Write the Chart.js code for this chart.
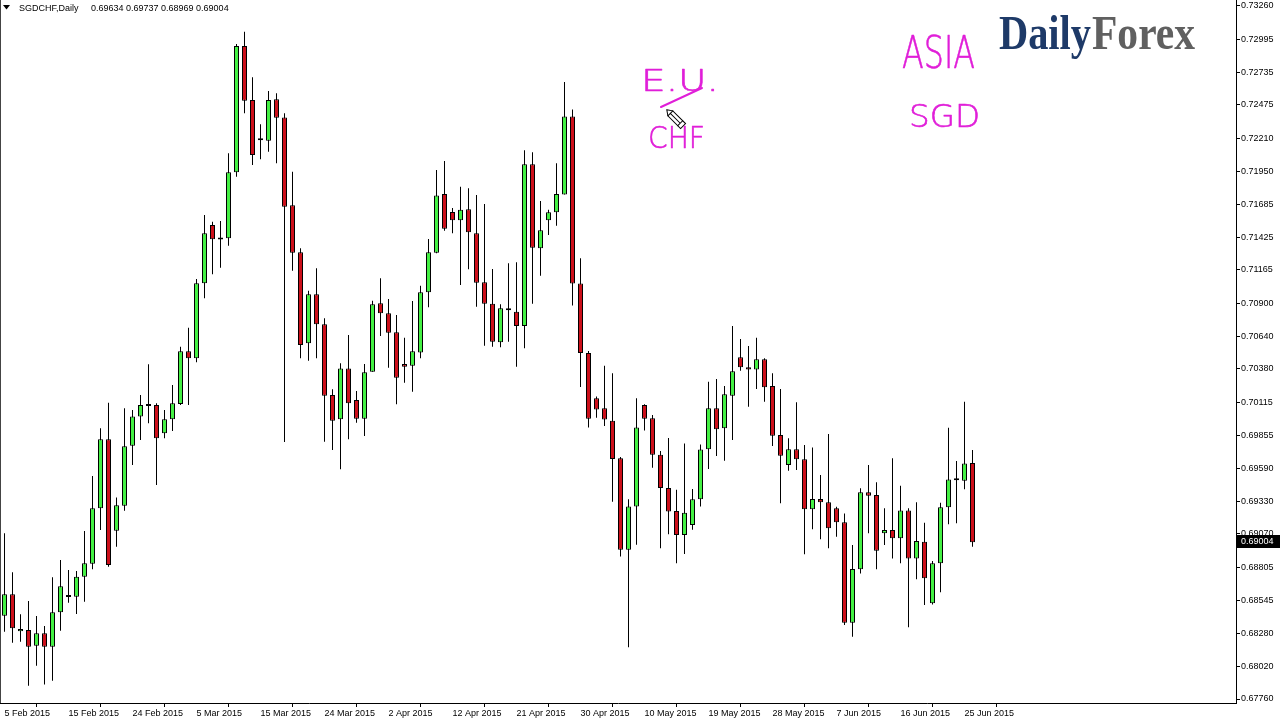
<!DOCTYPE html>
<html><head><meta charset="utf-8">
<script src="https://cdn.jsdelivr.net/npm/chart.js@4.4.1/dist/chart.umd.min.js"></script>
<style>html,body{margin:0;padding:0;background:#fff;overflow:hidden}canvas{display:block}</style>
</head><body>
<canvas id="c" width="1280" height="720"></canvas>
<script>
const symbolName = 'SGDCHF,Daily';
const dates = ['5 Feb 2015','6 Feb 2015','8 Feb 2015','9 Feb 2015','10 Feb 2015','11 Feb 2015','12 Feb 2015','13 Feb 2015','15 Feb 2015','16 Feb 2015','17 Feb 2015','18 Feb 2015','19 Feb 2015','20 Feb 2015','22 Feb 2015','23 Feb 2015','24 Feb 2015','25 Feb 2015','26 Feb 2015','27 Feb 2015',
'1 Mar 2015','2 Mar 2015','3 Mar 2015','4 Mar 2015','5 Mar 2015','6 Mar 2015','8 Mar 2015','9 Mar 2015','10 Mar 2015','11 Mar 2015','12 Mar 2015','13 Mar 2015','15 Mar 2015','16 Mar 2015','17 Mar 2015','18 Mar 2015','19 Mar 2015','20 Mar 2015','22 Mar 2015','23 Mar 2015','24 Mar 2015','25 Mar 2015','26 Mar 2015','27 Mar 2015','29 Mar 2015','30 Mar 2015','31 Mar 2015',
'1 Apr 2015','2 Apr 2015','3 Apr 2015','5 Apr 2015','6 Apr 2015','7 Apr 2015','8 Apr 2015','9 Apr 2015','10 Apr 2015','12 Apr 2015','13 Apr 2015','14 Apr 2015','15 Apr 2015','16 Apr 2015','17 Apr 2015','19 Apr 2015','20 Apr 2015','21 Apr 2015','22 Apr 2015','23 Apr 2015','24 Apr 2015','26 Apr 2015','27 Apr 2015','28 Apr 2015','29 Apr 2015','30 Apr 2015',
'1 May 2015','3 May 2015','4 May 2015','5 May 2015','6 May 2015','7 May 2015','8 May 2015','10 May 2015','11 May 2015','12 May 2015','13 May 2015','14 May 2015','15 May 2015','17 May 2015','18 May 2015','19 May 2015','20 May 2015','21 May 2015','22 May 2015','24 May 2015','25 May 2015','26 May 2015','27 May 2015','28 May 2015','29 May 2015','31 May 2015',
'1 Jun 2015','2 Jun 2015','3 Jun 2015','4 Jun 2015','5 Jun 2015','7 Jun 2015','8 Jun 2015','9 Jun 2015','10 Jun 2015','11 Jun 2015','12 Jun 2015','14 Jun 2015','15 Jun 2015','16 Jun 2015','17 Jun 2015','18 Jun 2015','19 Jun 2015','21 Jun 2015','22 Jun 2015','23 Jun 2015','24 Jun 2015','25 Jun 2015','26 Jun 2015'];

const opens = [0.68421,0.68591,0.68297,0.68307,0.68183,0.68281,0.68175,0.68448,0.68569,0.68571,
0.68730,0.68834,0.69273,0.69821,0.69095,0.69294,0.69770,0.70003,0.70090,0.70093,
0.69869,0.69980,0.70101,0.70519,0.70464,0.71059,0.71522,0.71410,0.71416,0.71940,
0.72943,0.72514,0.72194,0.72191,0.72520,0.72375,0.71678,0.71305,0.70583,0.70972,
0.70734,0.70172,0.69980,0.70384,0.70133,0.69984,0.70357,0.70900,0.70821,0.70670,
0.70419,0.70405,0.70510,0.70988,0.71302,0.71768,0.71625,0.71559,0.71646,0.71456,
0.71067,0.70897,0.70591,0.70849,0.70834,0.70720,0.72004,0.71337,0.71559,0.71623,
0.71764,0.72383,0.71058,0.70507,0.70146,0.70067,0.69969,0.69670,0.68944,0.69288,
0.70093,0.69988,0.69699,0.69434,0.69253,0.69061,0.69141,0.69346,0.69742,0.70067,
0.69908,0.70167,0.70472,0.70392,0.70376,0.70456,0.70244,0.69855,0.69617,0.69742,
0.69662,0.69265,0.69347,0.69321,0.69273,0.69162,0.68365,0.68789,0.69400,0.69379,
0.69075,0.69101,0.69035,0.69257,0.68876,0.69008,0.68519,0.68837,0.69281,0.69496,
0.69492,0.69634];
const highs = [0.69075,0.68765,0.68432,0.68538,0.68418,0.68339,0.68726,0.68863,0.68784,0.68776,
0.69093,0.69530,0.69908,0.70111,0.69360,0.70067,0.70053,0.70172,0.70416,0.70107,
0.70053,0.70252,0.70556,0.70707,0.71093,0.71601,0.71548,0.71554,0.72091,0.72958,
0.73056,0.72694,0.72321,0.72585,0.72567,0.72408,0.71945,0.71337,0.71000,0.71178,
0.70781,0.70218,0.70424,0.70649,0.70204,0.70419,0.70921,0.71099,0.70934,0.70807,
0.70627,0.70919,0.71040,0.71411,0.71958,0.72030,0.71657,0.71826,0.71813,0.71760,
0.71688,0.71173,0.70892,0.71218,0.71226,0.72115,0.72099,0.71712,0.71643,0.72012,
0.72657,0.72439,0.71258,0.70522,0.70161,0.70405,0.70346,0.69680,0.69346,0.70146,
0.70100,0.70014,0.69729,0.69831,0.69420,0.69787,0.69426,0.69779,0.70278,0.70300,
0.70244,0.70720,0.70617,0.70561,0.70627,0.70464,0.70345,0.70220,0.69829,0.70115,
0.69776,0.69757,0.69537,0.69863,0.69286,0.69233,0.68982,0.69432,0.69617,0.69480,
0.69273,0.69670,0.69453,0.69273,0.69321,0.69159,0.68855,0.69318,0.69913,0.69649,
0.70119,0.69737];
const lows = [0.68294,0.68207,0.68214,0.67865,0.68024,0.67876,0.67905,0.68302,0.68524,0.68434,
0.68532,0.68789,0.69101,0.68810,0.68968,0.69254,0.69617,0.69815,0.69948,0.69458,
0.69829,0.69887,0.70093,0.70093,0.70432,0.70940,0.71131,0.71183,0.71358,0.71905,
0.72408,0.71998,0.72043,0.72104,0.72012,0.69799,0.71159,0.70464,0.70445,0.70464,
0.69802,0.69736,0.69583,0.69821,0.69953,0.69847,0.70357,0.70641,0.70389,0.70099,
0.70270,0.70199,0.70464,0.70869,0.71297,0.71477,0.71456,0.71046,0.71170,0.70873,
0.70564,0.70556,0.70551,0.70596,0.70397,0.70543,0.70897,0.71119,0.71442,0.71516,
0.71764,0.70884,0.70237,0.69914,0.69993,0.69926,0.69326,0.68891,0.68171,0.68985,
0.69890,0.69596,0.68956,0.69067,0.68838,0.68911,0.69103,0.69288,0.69585,0.69688,
0.69651,0.69815,0.70365,0.70080,0.70220,0.70119,0.69768,0.69313,0.69572,0.69577,
0.68908,0.69107,0.69027,0.68956,0.69048,0.68347,0.68254,0.68757,0.69075,0.68789,
0.68982,0.68876,0.68837,0.68329,0.68710,0.68506,0.68510,0.68607,0.69146,0.69154,
0.69424,0.68969];
const closes = [0.68591,0.68321,0.68315,0.68175,0.68281,0.68175,0.68448,0.68654,0.68573,0.68730,
0.68837,0.69273,0.69821,0.68823,0.69297,0.69765,0.70003,0.70093,0.70086,0.69829,
0.69980,0.70107,0.70519,0.70464,0.71059,0.71456,0.71408,0.71406,0.71940,0.72943,
0.72508,0.72077,0.72198,0.72514,0.72373,0.71667,0.71302,0.70569,0.70972,0.70734,
0.70167,0.69969,0.70384,0.70107,0.69984,0.70353,0.70892,0.70821,0.70667,0.70310,
0.70397,0.70519,0.70988,0.71305,0.71757,0.71492,0.71559,0.71643,0.71464,0.71064,
0.70897,0.70596,0.70861,0.70845,0.70720,0.72004,0.71342,0.71480,0.71623,0.71768,
0.72383,0.71058,0.70507,0.69984,0.70058,0.69979,0.69664,0.68944,0.69288,0.69914,
0.69984,0.69699,0.69434,0.69249,0.69061,0.69238,0.69346,0.69740,0.70067,0.69900,
0.70178,0.70361,0.70392,0.70376,0.70456,0.70234,0.69850,0.69691,0.69742,0.69662,
0.69265,0.69347,0.69321,0.69115,0.69162,0.68365,0.68791,0.69400,0.69373,0.68937,
0.69101,0.69035,0.69257,0.68876,0.69014,0.68718,0.68837,0.69281,0.69503,0.69500,
0.69630,0.69004];

const priceTicks = [0.73260,0.72995,0.72735,0.72475,0.72210,0.71950,0.71685,0.71425,0.71165,0.70900,0.70640,
0.70380,0.70115,0.69855,0.69590,0.69330,0.69070,0.68805,0.68545,0.68280,0.68020,0.67760];
const dateTickIndex = [0,8,16,24,32,40,48,56,64,72,80,88,96,104,112,120];

const BULL = '#44f044', BEAR = '#cc0f1a', PEN = '#e01ed8';
const Y_MIN = 0.677283, Y_MAX = 0.733076;
const X_MIN = -0.5625, X_MAX = 153.9375;

const bodyData = opens.map((o, i) => ({x: i, y: [o, closes[i]]}));
const wickData = lows.map((l, i) => ({x: i, y: [l, highs[i]]}));
const bodyColors = opens.map((o, i) => closes[i] >= o ? BULL : BEAR);

function fitText(ctx, text, x, yBase, w, font, color, strokeW) {
  ctx.save();
  ctx.font = font; ctx.fillStyle = color; ctx.strokeStyle = color; ctx.textAlign = 'left'; ctx.textBaseline = 'alphabetic';
  const m = ctx.measureText(text).width;
  ctx.translate(x, yBase); ctx.scale(w / m, 1);
  ctx.fillText(text, 0, 0);
  if (strokeW) { ctx.lineWidth = strokeW; ctx.lineJoin = 'round'; ctx.strokeText(text, 0, 0); }
  ctx.restore();
}

const overlay = {
  id: 'overlay',
  afterDraw(chart) {
    const ctx = chart.ctx;
    const ys = chart.scales.y;
    const n = closes.length - 1;
    ctx.save();
    ctx.fillStyle = '#444';
    ctx.fillRect(0, 0, 1, 703);
    ctx.fillStyle = '#000';
    ctx.beginPath(); ctx.moveTo(3, 5); ctx.lineTo(10, 5); ctx.lineTo(6.5, 9.5); ctx.closePath(); ctx.fill();
    ctx.font = '9px "Liberation Sans"'; ctx.textBaseline = 'alphabetic'; ctx.textAlign = 'left';
    ctx.fillText(symbolName, 19, 10.5);
    ctx.fillText([opens[n], highs[n], lows[n], closes[n]].map(v => v.toFixed(5)).join(' '), 91, 10.5);
    const py = Math.round(ys.getPixelForValue(closes[n]));
    ctx.fillStyle = '#000';
    ctx.fillRect(1237, py - 7, 43, 13);
    ctx.fillStyle = '#fff';
    ctx.textBaseline = 'middle';
    ctx.fillText(closes[n].toFixed(5), 1241, py);
    ctx.restore();
    fitText(ctx, 'Daily', 999, 49, 92, 'bold 48px "Liberation Serif"', '#1e3a68');
    fitText(ctx, 'Forex', 1092, 49, 103, 'bold 48px "Liberation Serif"', '#606060');
    fitText(ctx, 'ASIA', 902, 68, 73, '200 44px "DejaVu Sans"', PEN, 0.6);
    fitText(ctx, 'SGD', 909, 127, 71, '200 32px "DejaVu Sans"', PEN, 0.6);
    fitText(ctx, 'E.U.', 641, 91, 78, '200 30px "DejaVu Sans"', PEN, 0.6);
    fitText(ctx, 'CHF', 648, 148, 57, '200 31px "DejaVu Sans"', PEN, 0.6);
    ctx.save();
    ctx.strokeStyle = PEN; ctx.lineWidth = 2; ctx.lineCap = 'round';
    ctx.beginPath(); ctx.moveTo(661, 107); ctx.lineTo(702, 88); ctx.stroke();
    ctx.translate(676, 119); ctx.rotate(Math.PI / 4);
    ctx.fillStyle = '#fff'; ctx.strokeStyle = '#000'; ctx.lineWidth = 1;
    ctx.beginPath(); ctx.moveTo(-13, 0); ctx.lineTo(-8, -3.5); ctx.lineTo(10, -3.5); ctx.lineTo(10, 3.5); ctx.lineTo(-8, 3.5); ctx.closePath();
    ctx.fill(); ctx.stroke();
    ctx.beginPath(); ctx.moveTo(-8, -3.5); ctx.lineTo(-8, 3.5); ctx.moveTo(6, -3.5); ctx.lineTo(6, 3.5); ctx.moveTo(-8, 0); ctx.lineTo(6, 0); ctx.stroke();
    ctx.restore();
  }
};

new Chart(document.getElementById('c').getContext('2d'), {
  type: 'bar',
  data: {
    datasets: [
      {label: 'body', data: bodyData, backgroundColor: bodyColors, borderColor: '#000', borderWidth: 1,
       borderSkipped: false, barThickness: 5, minBarLength: 2, grouped: false, order: 0, inflateAmount: 0},
      {label: 'wick', data: wickData, backgroundColor: '#000', borderWidth: 0,
       barThickness: 1, grouped: false, order: 1, inflateAmount: 0}
    ]
  },
  options: {
    responsive: false, animation: false, devicePixelRatio: 1,
    layout: {padding: 0},
    plugins: {legend: {display: false}, tooltip: {enabled: false}},
    scales: {
      x: {
        type: 'linear', position: 'bottom', min: X_MIN, max: X_MAX, offset: false,
        afterBuildTicks: s => { s.ticks = dateTickIndex.map(v => ({value: v})); },
        afterFit: s => { s.height = 17; s.paddingLeft = 0; s.paddingRight = 0; },
        grid: {display: true, drawOnChartArea: false, drawTicks: true, tickLength: 4, color: '#000', lineWidth: 1},
        border: {display: true, color: '#000', width: 1},
        ticks: {autoSkip: false, maxRotation: 0, minRotation: 0, align: 'start', padding: 1, color: '#000',
                font: {size: 9, family: 'Liberation Sans'}, callback: v => dates[v]}
      },
      y: {
        type: 'linear', position: 'right', min: Y_MIN, max: Y_MAX,
        afterBuildTicks: s => { s.ticks = priceTicks.map(v => ({value: v})); },
        afterFit: s => { s.width = 44; s.paddingTop = 0; s.paddingBottom = 0; },
        grid: {display: true, drawOnChartArea: false, drawTicks: true, tickLength: 4, color: '#000', lineWidth: 1},
        border: {display: true, color: '#000', width: 1},
        ticks: {autoSkip: false, padding: 1, color: '#000', font: {size: 9, family: 'Liberation Sans'},
                callback: v => v.toFixed(5)}
      }
    }
  },
  plugins: [overlay]
});
</script>
</body></html>
